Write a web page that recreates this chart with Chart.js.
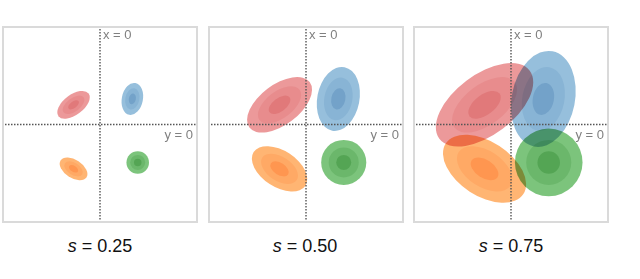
<!DOCTYPE html>
<html>
<head>
<meta charset="utf-8">
<script src="https://cdn.jsdelivr.net/npm/chart.js@4/dist/chart.umd.min.js"></script>
<style>
  html, body { margin: 0; padding: 0; background: #fff; }
  body { width: 640px; height: 279px; position: relative; overflow: hidden; font-family: "Liberation Sans", Arial, sans-serif; }
  canvas { position: absolute; top: 26px; }
  .caption { position: absolute; top: 236px; width: 160px; text-align: center; font-size: 18px; color: #111; }
</style>
</head>
<body>
<canvas id="p0" width="196" height="197" style="left:2px"></canvas>
<canvas id="p1" width="196" height="197" style="left:208px"></canvas>
<canvas id="p2" width="196" height="197" style="left:413px"></canvas>
<div class="caption" style="left:20px"><i>s</i> = 0.25</div>
<div class="caption" style="left:225px"><i>s</i> = 0.50</div>
<div class="caption" style="left:431px"><i>s</i> = 0.75</div>
<script>
// panel scale factors
const scaleValues = [0.25, 0.50, 0.75];

// mixture components (centres fixed, size grows with s)
const components = ['red', 'blue', 'orange', 'green'];
const centerX = [-0.27, 0.33, -0.27, 0.385];
const centerY = [0.20, 0.26, -0.45, -0.385];
const semiMajor = [0.77, 0.66, 0.63, 0.46]; // at s = 1
const semiMinor = [0.41, 0.43, 0.37, 0.46];
const angleDeg = [37, 79, -33, 0];

// nested contour levels (fraction of outer ellipse)
const levels = [1, 2 / 3, 1 / 3];

// axis labels
const xZeroLabel = 'x = 0';
const yZeroLabel = 'y = 0';

const colours = {
  red: { rgb: [214, 39, 40], alpha: [0.47, 0.1, 0.16] },
  blue: { rgb: [31, 119, 180], alpha: [0.47, 0.1, 0.18] },
  orange: { rgb: [255, 127, 14], alpha: [0.58, 0.13, 0.22] },
  green: { rgb: [44, 160, 44], alpha: [0.62, 0.17, 0.26] }
};

function rgba(c, a) {
  return 'rgba(' + c[0] + ',' + c[1] + ',' + c[2] + ',' + a + ')';
}

// draws the ellipses at each dataset point, then frame, zero lines and labels
const ellipsePlugin = {
  id: 'ellipses',
  beforeDraw(chart) {
    const ctx = chart.ctx;
    ctx.save();
    ctx.fillStyle = '#fff';
    ctx.fillRect(0, 0, chart.width, chart.height);
    ctx.restore();
  },
  afterDatasetsDraw(chart) {
    const ctx = chart.ctx;
    const xs = chart.scales.x;
    const ys = chart.scales.y;
    const unit = xs.getPixelForValue(1) - xs.getPixelForValue(0);

    ctx.save();
    ctx.globalCompositeOperation = 'multiply';
    chart.data.datasets.forEach((ds, i) => {
      const pt = chart.getDatasetMeta(i).data[0];
      const col = colours[ds.label];
      levels.forEach((lv, k) => {
        ctx.beginPath();
        ctx.ellipse(pt.x, pt.y, ds.semiMajor * lv * unit, ds.semiMinor * lv * unit,
          -ds.angle * Math.PI / 180, 0, Math.PI * 2);
        ctx.fillStyle = rgba(col.rgb, col.alpha[k]);
        ctx.fill();
      });
    });
    ctx.restore();

    const x0 = xs.getPixelForValue(0);
    const y0 = ys.getPixelForValue(0);
    ctx.save();
    ctx.strokeStyle = '#555';
    ctx.lineWidth = 1.4;
    ctx.setLineDash([1.5, 1.5]);
    ctx.beginPath();
    ctx.moveTo(x0, 0);
    ctx.lineTo(x0, chart.height);
    ctx.moveTo(0, y0);
    ctx.lineTo(chart.width, y0);
    ctx.stroke();
    ctx.setLineDash([]);
    ctx.strokeStyle = '#dadada';
    ctx.lineWidth = 2;
    ctx.strokeRect(1, 1, chart.width - 2, chart.height - 2);

    ctx.fillStyle = '#808080';
    ctx.font = '13px "Liberation Sans", Arial, sans-serif';
    ctx.textBaseline = 'alphabetic';
    ctx.textAlign = 'left';
    ctx.fillText(xZeroLabel, x0 + 3, 13);
    ctx.textAlign = 'right';
    ctx.fillText(yZeroLabel, chart.width - 5, y0 + 14);
    ctx.restore();
  }
};

scaleValues.forEach((s, p) => {
  new Chart(document.getElementById('p' + p), {
    type: 'scatter',
    data: {
      datasets: components.map((name, i) => ({
        label: name,
        data: [{ x: centerX[i], y: centerY[i] }],
        semiMajor: semiMajor[i] * s,
        semiMinor: semiMinor[i] * s,
        angle: angleDeg[i],
        pointRadius: 0
      }))
    },
    options: {
      responsive: false,
      animation: false,
      devicePixelRatio: 1,
      layout: { padding: 0 },
      plugins: { legend: { display: false }, tooltip: { enabled: false } },
      scales: {
        x: { type: 'linear', min: -1, max: 1, display: false },
        y: { type: 'linear', min: -1, max: 1, display: false }
      }
    },
    plugins: [ellipsePlugin]
  });
});
</script>
</body>
</html>
